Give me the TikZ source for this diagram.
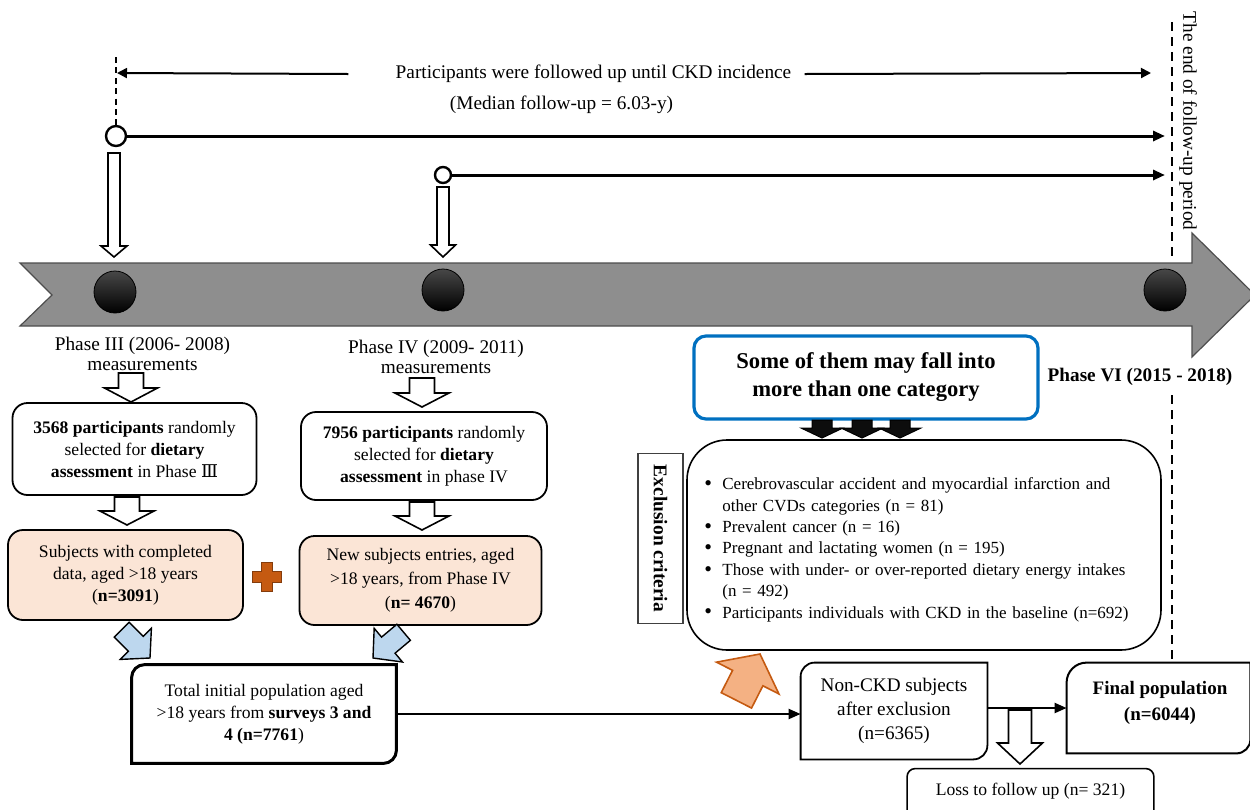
\documentclass[tikz,border=0pt]{standalone}
\usepackage{fontspec}
\setmainfont{Liberation Serif}
\newfontfamily\romfont{DejaVu Serif}
\usetikzlibrary{arrows.meta}
\definecolor{arrowgray}{HTML}{8E8E8E}
\definecolor{arrowedge}{HTML}{4D4D4D}
\definecolor{peach}{HTML}{FBE5D6}
\definecolor{plusorange}{HTML}{C55A11}
\definecolor{plusedge}{HTML}{843C0C}
\definecolor{lightblue}{HTML}{BDD7EE}
\definecolor{salmon}{HTML}{F4B183}
\definecolor{boxblue}{HTML}{0070C0}

% style, x, ytop, ybot, shaft half, head half, head length
\newcommand\hollowdown[7]{%
  \draw[#1] (#2-#5,#3) -- (#2+#5,#3) -- (#2+#5,#4-#7) -- (#2+#6,#4-#7) -- (#2,#4)
    -- (#2-#6,#4-#7) -- (#2-#5,#4-#7) -- cycle;}
% style, tipx, tipy, angle, length, shaft half, head half, head length
\newcommand\blockarr[8]{%
  \begin{scope}[shift={(#2,#3)}, rotate=#4]
    \draw[#1] (0,0) -- (-#8,#7) -- (-#8,#6) -- (-#5,#6) -- (-#5,-#6) -- (-#8,-#6) -- (-#8,-#7) -- cycle;
  \end{scope}}
% style, node, radius top-left, radius bottom-right
\newcommand\cornerbox[4]{%
  \draw[#1] (#2.south west) -- ([yshift=-#3]#2.north west)
    arc[start angle=180,end angle=90,radius=#3] -- (#2.north east)
    -- ([yshift=#4]#2.south east) arc[start angle=0,end angle=-90,radius=#4] -- cycle;}
\newcommand\bitem[1]{\par\hangindent=9pt\hangafter=1\noindent
  \makebox[9pt][l]{\raisebox{-0.4pt}{\fontsize{11}{10.7}\selectfont\textbullet}}#1}

\begin{document}
\begin{tikzpicture}[x=0.5pt, y=-0.5pt,
  lbl/.style={inner sep=0pt, align=center, font=\fontsize{9.65}{10}\selectfont},
  btxt/.style={inner sep=0pt, align=center, font=\fontsize{8.8}{11}\selectfont},
  rbox/.style={draw=black, line width=0.9pt, rounded corners=7.5pt},
  hollow/.style={draw=black, line width=0.8pt, fill=white, line join=miter},
  blackarr/.style={draw=black, line width=0.5pt, fill=black!95, line join=miter},
  bluearr/.style={draw=black, line width=0.7pt, fill=lightblue, line join=miter},
  orangearr/.style={draw=plusorange, line width=0.8pt, fill=salmon, line join=miter},
  ball/.style={circle, inner sep=0pt, minimum size=21pt, draw=black, line width=0.4pt,
    top color=black!72, middle color=black, bottom color=black},
  opencirc/.style={circle, draw=black, fill=white, line width=1.2pt, inner sep=0pt},
  thickarr/.style={line width=1.5pt, -{Triangle[length=6pt,width=5pt]}},
  thinarr/.style={line width=1pt, -{Triangle[length=5pt,width=5pt]}},
  conn/.style={line width=1.1pt, -{Triangle[length=6pt,width=5pt]}},
  bigdash/.style={line width=1pt, dash pattern=on 4.5pt off 3pt},
  smalldash/.style={line width=0.7pt, dash pattern=on 3pt off 2.2pt}]
\useasboundingbox (0,0) rectangle (1250,810);

% timeline arrow
\draw[draw=arrowedge, fill=arrowgray, line width=0.6pt] (20,263) -- (1192,263) -- (1192,233)
  -- (1255,295) -- (1192,357) -- (1192,326) -- (20,326) -- (52,295) -- cycle;
\node[ball] (b1) at (115,292) {};
\node[ball] (b2) at (443,290) {};
\node[ball] (b3) at (1165,290) {};

% follow-up lines
\node[opencirc, minimum size=10pt] (c1) at (116,136) {};
\node[opencirc, minimum size=8pt] (c2) at (443,175) {};
\coordinate (e1) at (1165,136);
\coordinate (e2) at (1165,175);
\draw[thickarr] (c1.east) -- (e1);
\draw[thickarr] (c2.east) -- (e2);
\coordinate (d1) at (116,57);
\draw[smalldash] (d1) -- (c1.north);

\node[lbl] (ptxt) at (593.5,74) {Participants were followed up until CKD incidence};
\node[lbl] (mtxt) at (561.5,105) {(Median follow-up = 6.03-y)};
\coordinate (la) at (117,73);
\coordinate (ra) at (1151,73);
\draw[thinarr] ([xshift=-23.5pt]ptxt.west) -- (la);
\draw[thinarr] ([xshift=6.5pt]ptxt.east) -- (ra);

\hollowdown{hollow}{114}{153}{257}{6}{13}{11}
\hollowdown{hollow}{443}{187}{257}{6}{12.5}{12}

% end of follow-up
\node[lbl, rotate=-90] (endtxt) at (1188,121) {The end of follow-up period};
\node[lbl, font=\bfseries\fontsize{9.6}{10}\selectfont] (ph6) at (1140,377) {Phase VI (2015 - 2018)};

% phase III column
\node[lbl] (ph3) at (142.5,354) {Phase III (2006- 2008)\\measurements};
\hollowdown{hollow}{131}{373}{402}{12.5}{26.5}{14}
\node[rbox, btxt, minimum width=122pt, minimum height=46pt] (box1) at (134.5,449)
  {\textbf{3568 participants} randomly\\selected for \textbf{dietary}\\\textbf{assessment} in Phase {\romfont Ⅲ}};
\hollowdown{hollow}{127}{497}{525}{12.5}{27}{14}
\node[rbox, btxt, fill=peach, minimum width=117.5pt, minimum height=45pt] (box2) at (125.5,575)
  {Subjects with completed\\data, aged >18 years\\(\textbf{n=3091})};

% plus
\draw[fill=plusorange, draw=plusedge, line width=0.5pt, line join=miter] (261.5,562.5) -- (272.5,562.5) -- (272.5,571.5)
  -- (281.5,571.5) -- (281.5,582.5) -- (272.5,582.5) -- (272.5,591.5) -- (261.5,591.5)
  -- (261.5,582.5) -- (252.5,582.5) -- (252.5,571.5) -- (261.5,571.5) -- cycle;

% phase IV column
\node[lbl] (ph4) at (436,357) {Phase IV (2009- 2011)\\measurements};
\hollowdown{hollow}{422}{378}{407}{12.5}{27}{14}
\node[rbox, btxt, minimum width=123pt, minimum height=44pt] (box3) at (424,456)
  {\textbf{7956 participants} randomly\\selected for \textbf{dietary}\\\textbf{assessment} in phase IV};
\hollowdown{hollow}{422}{502}{530}{12.5}{27}{14}
\node[rbox, btxt, fill=peach, minimum width=121pt, minimum height=44.5pt,
  font=\fontsize{8.8}{12}\selectfont] (box4) at (420.5,580.5)
  {New subjects entries, aged\\>18 years, from Phase IV\\(\textbf{n= 4670})};

% blue arrows
\blockarr{bluearr}{150}{658}{-45}{40}{10.5}{22}{20}
\blockarr{bluearr}{373}{658}{-140}{40}{10.5}{22}{20}

% total
\node[btxt, minimum width=132pt, minimum height=49pt] (tot) at (264,714)
  {Total initial population aged\\>18 years from \textbf{surveys 3 and}\\\textbf{4 (n=7761})};
\cornerbox{line width=1.5pt}{tot}{6.5pt}{6.5pt}

% non-CKD
\node[btxt, font=\fontsize{9.6}{12}\selectfont, minimum width=93pt, minimum height=48pt] (nck) at (894,711)
  {Non-CKD subjects\\after exclusion\\(n=6365)};
\cornerbox{line width=0.9pt}{nck}{7pt}{7pt}
\draw[conn] (tot.east) -- (tot.east -| nck.west);

% final
\node[inner sep=0pt, minimum width=91.5pt, minimum height=45pt] (fin) at (1158.5,708) {};
\cornerbox{line width=1pt}{fin}{10pt}{7pt}
\node[btxt, font=\bfseries\fontsize{9.5}{13}\selectfont] (fint) at (1160,703) {Final population\\(n=6044)};
\draw[conn] (nck.east |- fin.west) -- (fin.west);

\coordinate (r1) at (1172,22);
\coordinate (r2) at (1172,258);
\coordinate (r3) at (1172,395);
\draw[bigdash] (r1) -- (r2);
\draw[bigdash] (r3) -- (r3 |- fin.north);

% loss
\hollowdown{hollow}{1020}{710}{764}{11.5}{22.5}{21}
\node[btxt, minimum width=123pt, minimum height=22pt] (loss) at (1030.5,791) {Loss to follow up (n= 321)};
\draw[line width=0.8pt] (loss.south west) -- ([yshift=-4pt]loss.north west)
  arc[start angle=180,end angle=90,radius=4pt] -- ([xshift=-4pt]loss.north east)
  arc[start angle=90,end angle=0,radius=4pt] -- (loss.south east);

% exclusion
\node[draw=boxblue, line width=1.6pt, rounded corners=6pt, minimum width=172pt, minimum height=41.5pt,
  inner sep=0pt, align=center, font=\bfseries\fontsize{11.3}{14}\selectfont] (blue) at (866,377.5)
  {Some of them may fall into\\more than one category};
\foreach \cx in {822,862,900} {\hollowdown{blackarr}{\cx}{420}{438}{10}{21}{10}}
\node[draw=black, line width=0.8pt, rounded corners=20pt, minimum width=237pt, minimum height=105pt,
  inner sep=0pt] (big) at (924,545) {};
\node[draw=black!75, line width=0.6pt, rotate=-90, minimum width=85pt, minimum height=22.5pt,
  inner sep=0pt, font=\bfseries\fontsize{9.7}{10}\selectfont] (excl) at (660.5,538.5) {Exclusion criteria};
\node[anchor=west, inner sep=0pt, text width=228pt, font=\fontsize{8.5}{10.7}\selectfont]
  (blist) at (704,545) {\raggedright
  \bitem{Cerebrovascular accident and myocardial infarction and\newline other CVDs categories (n = 81)}
  \bitem{Prevalent cancer (n = 16)}
  \bitem{Pregnant and lactating women (n = 195)}
  \bitem{Those with under- or over-reported dietary energy intakes\newline (n = 492)}
  \bitem{Participants individuals with CKD in the baseline (n=692)}\par};

\blockarr{orangearr}{760}{654}{63}{52}{17}{35}{27}
\end{tikzpicture}
\end{document}
